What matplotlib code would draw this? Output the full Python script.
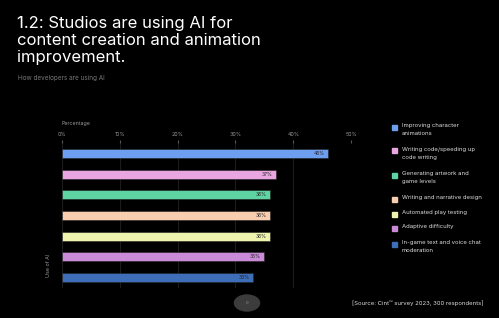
import matplotlib.pyplot as plt
from matplotlib.patches import Circle, Rectangle

# data
categories = ['Improving character\nanimations', 'Writing code/speeding up\ncode writing',
              'Generating artwork and\ngame levels', 'Writing and narrative design',
              'Automated play testing', 'Adaptive difficulty',
              'In-game text and voice chat\nmoderation']
values = [46, 37, 36, 36, 36, 35, 33]
colors = ['#6e9ef0', '#e8a5df', '#5fd4a3', '#f8cdb0', '#eef4ae', '#c98bd8', '#3f6eb8']
ticks = [0, 10, 20, 30, 40, 50]

fig = plt.figure(figsize=(4.99, 3.18), dpi=100)
fig.patch.set_facecolor('black')
plt.rcParams['font.family'] = ['Inter', 'DejaVu Sans']

W, H = 499, 318
ax = fig.add_axes([62 / W, 1 - 288 / H, (351 - 62) / W, (288 - 143) / H])
ax.set_facecolor('black')
y = list(range(len(values)))
ax.barh(y, values, height=0.44, color=colors, edgecolor='#222222', linewidth=0.4, zorder=3)
for yi, v in zip(y, values):
    ax.text(v - 0.6, yi, f'{v}%', ha='right', va='center', fontsize=3.6, color='#222222', zorder=4)
ax.set_xlim(0, 50)
ax.set_ylim(len(values) - 0.5, -0.5)
ax.set_xticks(ticks)
ax.set_xticklabels([f'{t}%' for t in ticks])
ax.xaxis.tick_top()
ax.tick_params(axis='x', colors='#555555', labelsize=3.8, length=2, pad=2, labelcolor='#999999')
ax.set_yticks([])
ax.grid(axis='x', color='#1c1c1c', linewidth=0.8, zorder=0)
for s in ax.spines.values():
    s.set_visible(False)

fig.text(62 / W, 1 - 123 / H, 'Percentage', fontsize=3.8, color='#999999', va='center')
fig.text(48 / W, 1 - 265 / H, 'Use of AI', fontsize=3.8, color='#999999', rotation=90,
         ha='center', va='center')

# title
fig.text(17 / W, 1 - 62 / H, '1.2: Studios are using AI for\ncontent creation and animation\nimprovement.',
         fontsize=12, color='white', va='baseline', ha='left', linespacing=1.18)
fig.text(18 / W, 1 - 78 / H, 'How developers are using AI', fontsize=4.6, color='#777777', va='center')

# legend
legend_y = [127, 151, 175, 199, 214, 228, 244]
for lab, c, ly in zip(categories, colors, legend_y):
    fig.patches.append(Rectangle((392 / W, 1 - (ly + 2.5) / H), 5 / W, 5 / H,
                                 transform=fig.transFigure, color=c))
    fig.text(402 / W, 1 - (ly - 4) / H, lab, fontsize=4.3, color='#dddddd',
             va='top', linespacing=1.75)

fig.text(352 / W, 1 - 303 / H, '[Source: Cint\u2122 survey 2023, 300 respondents]',
         fontsize=4.3, color='#dddddd', va='center')

# small page marker
fig.patches.append(Circle((247 / W, 1 - 303 / H), 8 / H, transform=fig.transFigure,
                          color='#3c3c3c'))
fig.text(247 / W, 1 - 303 / H, '0', fontsize=3, color='#999999', ha='center', va='center')

fig.savefig('out.png', dpi=100, facecolor='black')
